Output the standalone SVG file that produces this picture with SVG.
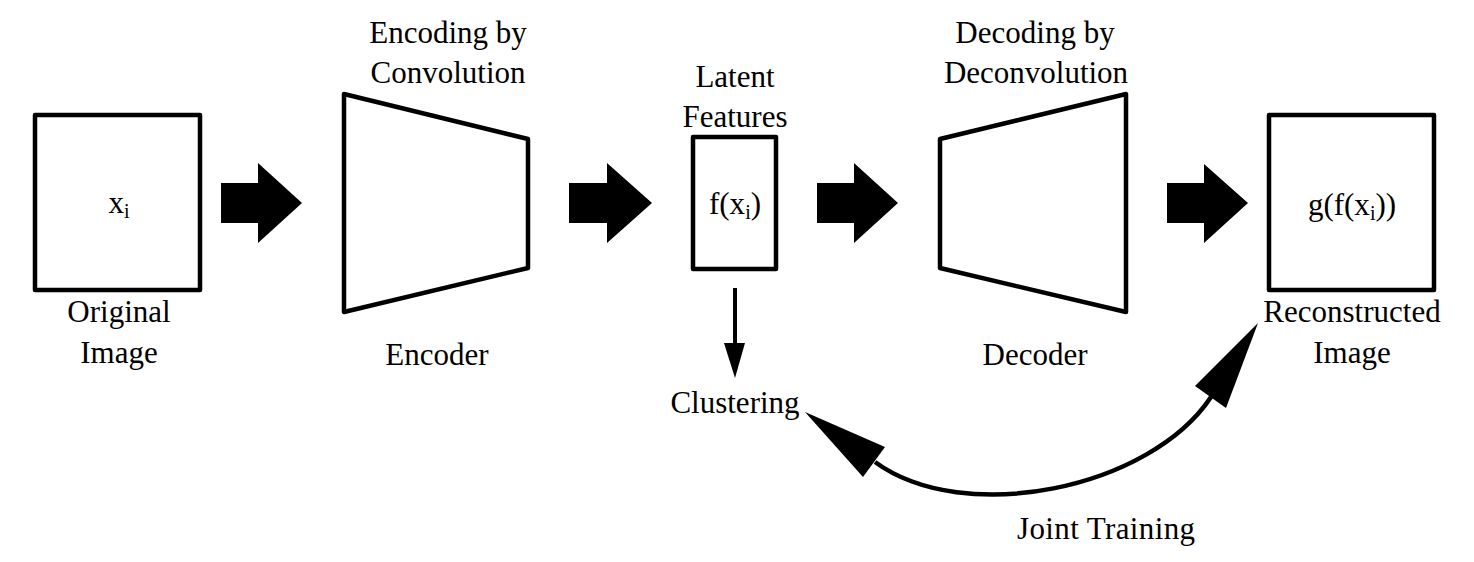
<svg xmlns="http://www.w3.org/2000/svg" width="1474" height="562" viewBox="0 0 1474 562">
<style>
text{font-family:"Liberation Serif","Times New Roman",serif;font-size:31px;fill:#000;text-anchor:middle}
.box{fill:#fff;stroke:#000;stroke-width:4.5;stroke-linejoin:round}
.blk{fill:#000;stroke:none}
.sub{font-size:20px}
</style>
<rect width="1474" height="562" fill="#fff"/>
<g id="original-image">
<rect class="box" x="35" y="115" width="165" height="175"/>
<text x="119" y="213">x<tspan class="sub" dy="5">i</tspan></text>
<text x="119" y="322">Original</text>
<text x="119" y="363">Image</text>
</g>
<g id="encoder">
<polygon class="box" points="344,94 528,139 528,268 344,312"/>
<text x="448" y="43">Encoding by</text>
<text x="448" y="83">Convolution</text>
<text x="437" y="365">Encoder</text>
</g>
<g id="latent">
<rect class="box" x="693" y="137" width="83" height="132"/>
<text x="735" y="87">Latent</text>
<text x="735" y="127">Features</text>
<text x="735" y="214">f(x<tspan class="sub" dy="5">i</tspan><tspan dy="-5">)</tspan></text>
</g>
<g id="decoder">
<polygon class="box" points="940,139 1126,94 1126,312 940,268"/>
<text x="1035" y="43">Decoding by</text>
<text x="1036" y="83">Deconvolution</text>
<text x="1035" y="365">Decoder</text>
</g>
<g id="reconstructed">
<rect class="box" x="1269" y="115" width="165" height="175"/>
<text x="1352" y="215">g(f(x<tspan class="sub" dy="5">i</tspan><tspan dy="-5">))</tspan></text>
<text x="1352" y="322">Reconstructed</text>
<text x="1352" y="363">Image</text>
</g>
<g id="clustering">
<text x="735" y="413">Clustering</text>
</g>
<g id="connectors">
<polygon class="blk" points="221,183 258,183 258,163 302,203 258,243 258,223 221,223"/>
<polygon class="blk" points="569,183 607,183 607,163 652,203 607,243 607,223 569,223"/>
<polygon class="blk" points="817,183 854,183 854,163 898,203 854,243 854,223 817,223"/>
<polygon class="blk" points="1167,183 1204,183 1204,164 1248,203 1204,243 1204,223 1167,223"/>
<line x1="735" y1="288" x2="735" y2="346" stroke="#000" stroke-width="4"/>
<polygon class="blk" points="724,343 745,343 735,378"/>
<path d="M875,462 C964,527 1150,489 1211,397" fill="none" stroke="#000" stroke-width="4.5"/>
<polygon class="blk" points="805,412 885,447 863,477"/>
<polygon class="blk" points="1258,323 1195,386 1226,408"/>
<text x="1106" y="539" textLength="178">Joint Training</text>
</g>
</svg>
